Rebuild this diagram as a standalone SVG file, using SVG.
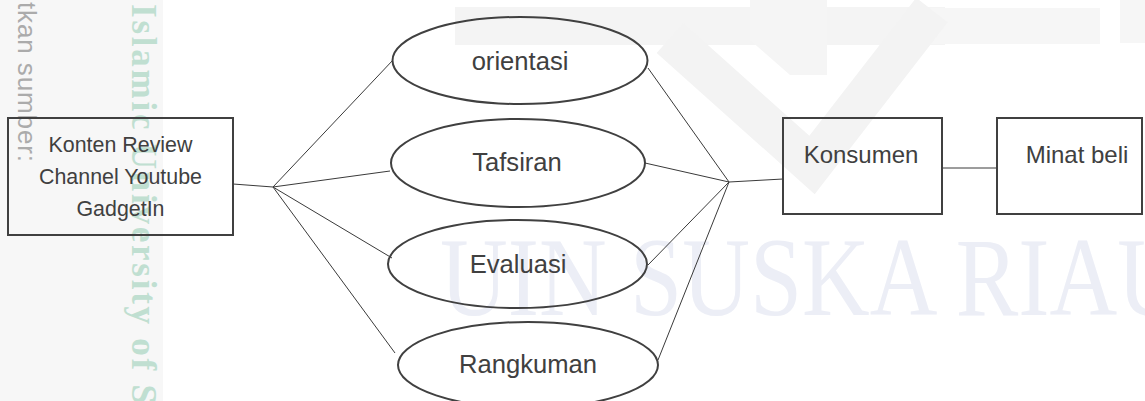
<svg xmlns="http://www.w3.org/2000/svg" width="1145" height="401" viewBox="0 0 1145 401">
<style>
.shape{fill:none;stroke:#404040;stroke-width:2}
.conn line{stroke:#3a3a3a;stroke-width:1}
.lbl{font-family:"Liberation Sans",Arial,sans-serif;fill:#404040;text-anchor:middle}
.big{font-size:25.6px}
.mid{font-size:24px}
.small{font-size:21.4px}
.wm{font-family:"Liberation Serif","Times New Roman",serif}
</style>
<rect width="1145" height="401" fill="#ffffff"/>
<g id="watermark">
  <rect x="0" y="0" width="163" height="401" fill="#f7f7f7"/>
  <rect x="455" y="7" width="490" height="38" fill="#f4f4f4"/>
  <polygon points="750,0 827,0 827,75 790,75 750,40" fill="#f5f5f5"/>
  <rect x="930" y="8" width="170" height="36" fill="#f6f6f6"/>
  <rect x="1120" y="0" width="25" height="43" fill="#f6f6f6"/>
  <polyline points="670,38 812,165 932,10" fill="none" stroke="#f3f3f3" stroke-width="40" stroke-linejoin="miter"/>
  <text class="wm" x="440" y="315" font-size="112" fill="#eceef6" textLength="745" lengthAdjust="spacingAndGlyphs">UIN SUSKA RIAU</text>
  <text class="wm" transform="translate(132,4) rotate(90)" font-size="35" font-weight="bold" fill="#c0dfd1" textLength="400">Islamic University of S</text>
  <text transform="translate(18,2) rotate(90)" font-family="Liberation Sans,Arial,sans-serif" font-size="26" fill="#ababab" textLength="160">tkan sumber:</text>
</g>
<g id="connectors" class="conn">
  <line x1="233" y1="184" x2="273" y2="187"/>
  <line x1="273" y1="187" x2="393" y2="60"/>
  <line x1="273" y1="187" x2="390" y2="171"/>
  <line x1="273" y1="187" x2="392" y2="258"/>
  <line x1="273" y1="187" x2="395" y2="353"/>
  <line x1="648" y1="68" x2="729" y2="182"/>
  <line x1="645" y1="163" x2="729" y2="182"/>
  <line x1="648" y1="265" x2="729" y2="182"/>
  <line x1="658" y1="360" x2="729" y2="182"/>
  <line x1="729" y1="182" x2="783" y2="179"/>
  <line x1="942" y1="168" x2="997" y2="168"/>
</g>
<g id="node-konten">
  <rect class="shape" x="8" y="118" width="225" height="117"/>
  <text class="lbl small" x="120.5" y="152">Konten Review</text>
  <text class="lbl small" x="120.5" y="184">Channel Youtube</text>
  <text class="lbl small" x="120.5" y="216">GadgetIn</text>
</g>
<g id="node-orientasi">
  <ellipse class="shape" cx="520" cy="60.5" rx="127.5" ry="43.5"/>
  <text class="lbl big" x="520" y="70">orientasi</text>
</g>
<g id="node-tafsiran">
  <ellipse class="shape" cx="518" cy="163" rx="127" ry="44"/>
  <text class="lbl big" x="517" y="171">Tafsiran</text>
</g>
<g id="node-evaluasi">
  <ellipse class="shape" cx="517.5" cy="264" rx="129.5" ry="44"/>
  <text class="lbl big" x="518" y="273">Evaluasi</text>
</g>
<g id="node-rangkuman">
  <ellipse class="shape" cx="528" cy="365" rx="130" ry="43"/>
  <text class="lbl big" x="528" y="373">Rangkuman</text>
</g>
<g id="node-konsumen">
  <rect class="shape" x="783" y="118" width="159" height="96"/>
  <text class="lbl mid" x="861" y="163">Konsumen</text>
</g>
<g id="node-minat">
  <rect class="shape" x="997" y="118" width="145" height="96"/>
  <text class="lbl mid" x="1077" y="163">Minat beli</text>
</g>
</svg>
